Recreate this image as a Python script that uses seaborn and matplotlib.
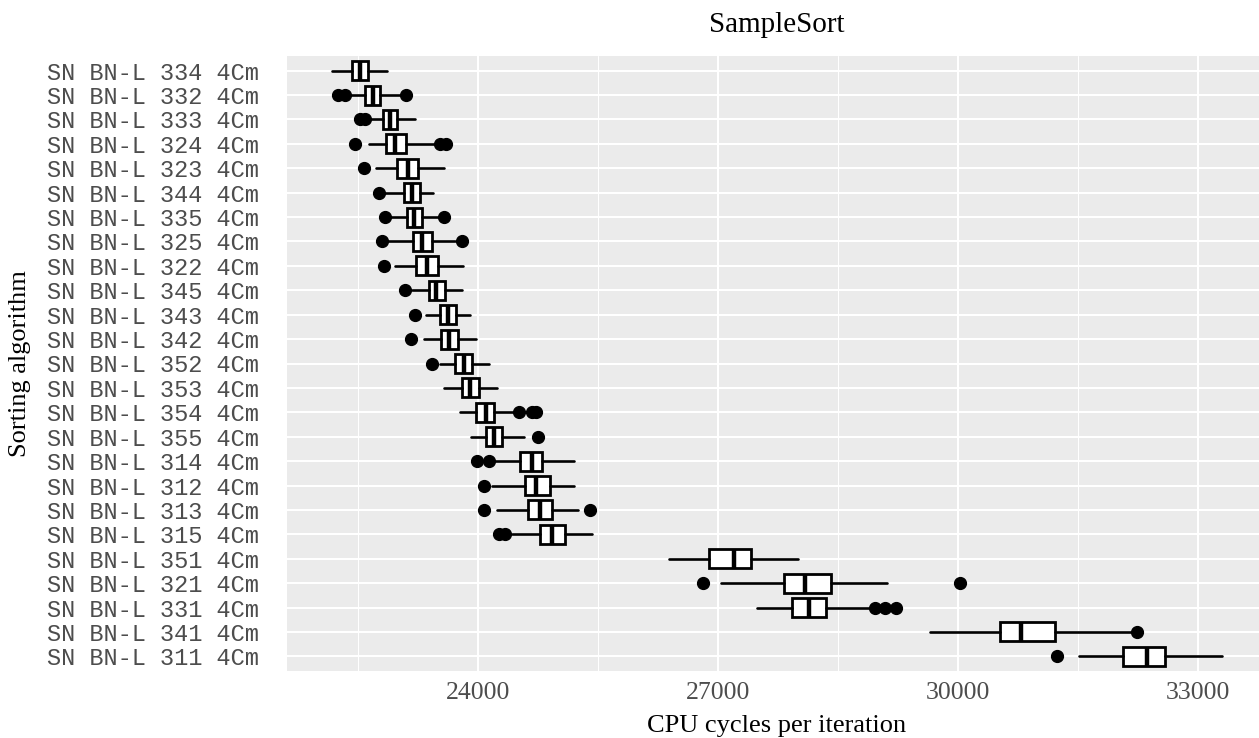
import matplotlib
matplotlib.use("Agg")
import matplotlib.pyplot as plt
import seaborn as sns

# algorithm names, top row first
algorithms = [
    "SN BN-L 334 4Cm", "SN BN-L 332 4Cm", "SN BN-L 333 4Cm", "SN BN-L 324 4Cm",
    "SN BN-L 323 4Cm", "SN BN-L 344 4Cm", "SN BN-L 335 4Cm", "SN BN-L 325 4Cm",
    "SN BN-L 322 4Cm", "SN BN-L 345 4Cm", "SN BN-L 343 4Cm", "SN BN-L 342 4Cm",
    "SN BN-L 352 4Cm", "SN BN-L 353 4Cm", "SN BN-L 354 4Cm", "SN BN-L 355 4Cm",
    "SN BN-L 314 4Cm", "SN BN-L 312 4Cm", "SN BN-L 313 4Cm", "SN BN-L 315 4Cm",
    "SN BN-L 351 4Cm", "SN BN-L 321 4Cm", "SN BN-L 331 4Cm", "SN BN-L 341 4Cm",
    "SN BN-L 311 4Cm",
]

# box statistics (CPU cycles per iteration)
whisker_low = [22171, 22392, 22650, 22638, 22725, 22838, 22900, 22879, 22963, 23171,
               23346, 23325, 23533, 23575, 23775, 23913, 24213, 24183, 24242, 24429,
               26385, 27034, 27491, 29656, 31521]
q1 = [22421, 22588, 22817, 22850, 22992, 23075, 23108, 23192, 23233, 23388,
      23525, 23538, 23717, 23804, 23983, 24096, 24533, 24588, 24629, 24775,
      26895, 27822, 27930, 30523, 32066]
median = [22525, 22692, 22900, 22963, 23121, 23179, 23208, 23308, 23367, 23483,
          23621, 23638, 23825, 23908, 24096, 24204, 24671, 24733, 24783, 24933,
          27201, 28093, 28144, 30793, 32361]
q3 = [22629, 22775, 22992, 23100, 23250, 23283, 23304, 23433, 23504, 23588,
      23725, 23746, 23933, 24017, 24204, 24308, 24808, 24900, 24933, 25088,
      27415, 28409, 28348, 31215, 32590]
whisker_high = [22867, 23025, 23213, 23450, 23579, 23442, 23504, 23713, 23817, 23804,
                23908, 23983, 24138, 24242, 24442, 24575, 25200, 25200, 25254, 25433,
                28001, 29111, 28893, 32168, 33309]
outliers = [
    [], [22254, 22338, 23100], [22525, 22588], [22467, 23525, 23596], [22579],
    [22767], [22842, 23575], [22796, 23796], [22825], [23088],
    [23217], [23163], [23421], [], [24513, 24671, 24733],
    [24746], [23992, 24138], [24075], [24079, 25408], [24267, 24338],
    [], [26819, 30029], [28969, 29086, 29229], [32244], [31235],
]

major_ticks = [24000, 27000, 30000, 33000]
minor_ticks = [22500, 25500, 28500, 31500]

sns.set_theme(style="darkgrid", rc={"axes.facecolor": "#EBEBEB"})
plt.rcParams["font.family"] = ["Liberation Serif", "DejaVu Serif"]

fig = plt.figure(figsize=(12.59, 7.38), dpi=100)
W, H = 1259, 738
ax = fig.add_axes([287 / W, 67 / H, (1267 - 287) / W, 615 / H])

stats = []
for i, name in enumerate(algorithms):
    stats.append({
        "label": name,
        "whislo": whisker_low[i],
        "q1": q1[i],
        "med": median[i],
        "q3": q3[i],
        "whishi": whisker_high[i],
        "fliers": outliers[i],
    })

positions = list(range(len(algorithms)))
ax.bxp(
    stats,
    positions=positions,
    widths=0.78,
    orientation="horizontal",
    patch_artist=True,
    showcaps=False,
    boxprops=dict(facecolor="white", edgecolor="black", linewidth=2.0),
    medianprops=dict(color="black", linewidth=3.2),
    whiskerprops=dict(color="black", linewidth=1.9),
    flierprops=dict(marker="o", markerfacecolor="black", markeredgecolor="black",
                    markersize=8.5),
    zorder=3,
)

ax.set_ylim(len(algorithms) - 0.4, -0.6)
ax.set_xlim(21614, 33866)
ax.set_yticks(positions)
ax.set_yticklabels(algorithms, family=["Liberation Mono", "DejaVu Sans Mono"],
                   fontsize=17, color="#4D4D4D")
ax.set_xticks(major_ticks)
ax.set_xticks(minor_ticks, minor=True)
ax.set_xticklabels([str(t) for t in major_ticks], fontsize=18.5, color="#4D4D4D")

ax.grid(which="major", color="white", linewidth=1.5)
ax.grid(which="minor", axis="x", color="white", linewidth=0.75)
ax.set_axisbelow(True)
for s in ax.spines.values():
    s.set_visible(False)

ax.tick_params(axis="both", which="major", length=5, width=1.1, color="#333333")
ax.tick_params(axis="y", pad=15)
ax.tick_params(axis="x", pad=3)
ax.tick_params(axis="x", which="minor", length=0)

ax.set_xlabel("CPU cycles per iteration", fontsize=19, color="black", labelpad=8)
ax.set_ylabel("Sorting algorithm", fontsize=19, color="black")
ax.yaxis.set_label_coords(-256 / 980, 0.5)
ax.set_title("SampleSort", fontsize=21, color="black", pad=17)

fig.savefig("out.png", dpi=100)
